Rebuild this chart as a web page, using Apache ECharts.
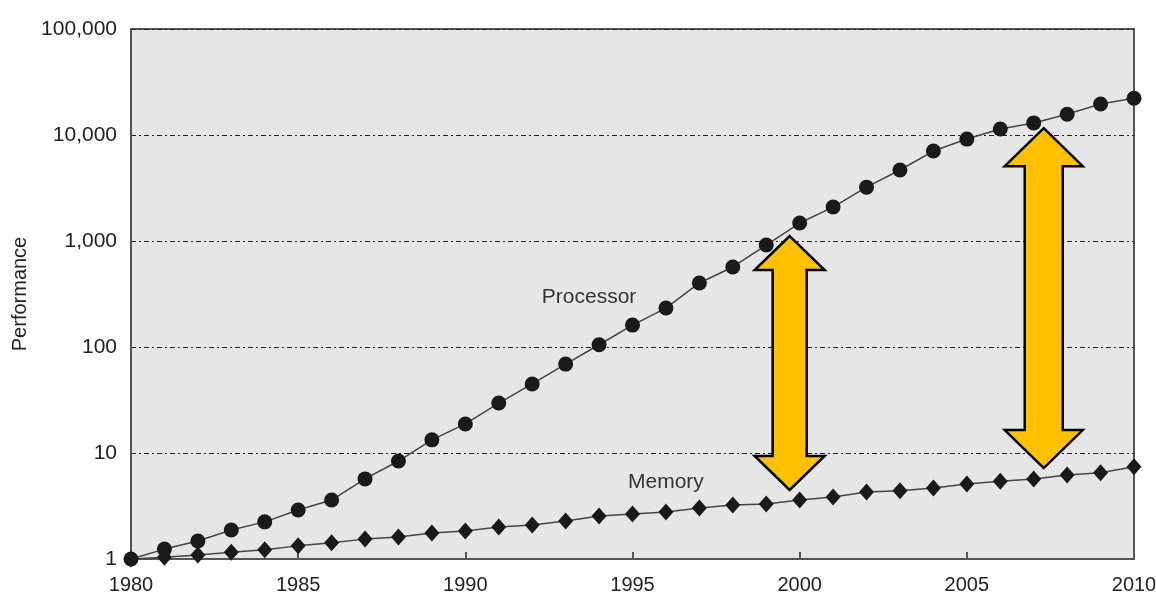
<!DOCTYPE html>
<html lang="en">
<head>
    <meta charset="UTF-8">
    <script src="https://cdn.jsdelivr.net/npm/echarts@6/dist/echarts.min.js"></script>
    <title>Processor vs Memory performance</title>
    <style>
        html, body { margin: 0; padding: 0; background: #fff; }
        #chart { width: 1156px; height: 598px; }
    </style>
</head>
<body>
<div id="chart"></div>
<script type="text/javascript">
    // years 1980..2010
    var years = [1980, 1981, 1982, 1983, 1984, 1985, 1986, 1987, 1988, 1989, 1990,
        1991, 1992, 1993, 1994, 1995, 1996, 1997, 1998, 1999, 2000,
        2001, 2002, 2003, 2004, 2005, 2006, 2007, 2008, 2009, 2010];
    var processor = [1, 1.24, 1.48, 1.88, 2.24, 2.9, 3.6, 5.7, 8.4, 13.3, 18.8,
        29.6, 44.8, 69, 105, 161, 233, 402, 569, 916, 1478,
        2090, 3222, 4677, 7057, 9153, 11400, 13000, 15700, 19600, 22200];
    var memory = [1, 1.04, 1.09, 1.16, 1.22, 1.33, 1.42, 1.54, 1.61, 1.76, 1.84,
        2.0, 2.09, 2.28, 2.54, 2.66, 2.77, 3.03, 3.23, 3.3, 3.6,
        3.85, 4.28, 4.4, 4.67, 5.1, 5.4, 5.69, 6.2, 6.5, 7.4];
    var yTicks = [1, 10, 100, 1000, 10000, 100000];

    // gap arrows: [year, top value, bottom value]
    var gapArrows = [[1999.7, 1114, 4.48], [2007.3, 11600, 7.2]];
    // text labels: [text, year, value]
    var seriesLabels = [['Processor', 1993.7, 297], ['Memory', 1996.0, 5.3]];

    function pair(arr) {
        var out = [];
        for (var i = 0; i < years.length; i++) {
            out.push([years[i], arr[i]]);
        }
        return out;
    }

    var textColor = '#222';
    var font = 'Liberation Sans';

    var myChart = echarts.init(document.getElementById('chart'));
    var option = {
        animation: false,
        grid: {
            left: 131, right: 22, top: 29, bottom: 39,
            outerBoundsMode: 'none',
            show: true,
            backgroundColor: '#e6e6e6',
            borderColor: '#555',
            borderWidth: 2
        },
        xAxis: {
            type: 'value',
            min: 1980,
            max: 2010,
            interval: 5,
            splitLine: { show: false },
            axisLine: { lineStyle: { color: '#555', width: 2 } },
            axisTick: { show: true, inside: true, length: 7, lineStyle: { color: '#555', width: 2 } },
            axisLabel: {
                color: textColor, fontFamily: font, fontSize: 20, margin: 16,
                formatter: function (v) { return String(v); }
            }
        },
        yAxis: {
            type: 'log',
            logBase: 10,
            min: yTicks[0],
            max: yTicks[yTicks.length - 1],
            name: 'Performance',
            nameLocation: 'middle',
            nameRotate: 90,
            nameGap: 94,
            nameTextStyle: { color: textColor, fontFamily: font, fontSize: 20 },
            axisLine: { show: true, lineStyle: { color: '#555', width: 2 } },
            axisTick: { show: false },
            splitLine: {
                show: true,
                lineStyle: { color: '#222', width: 1, type: [5, 3, 2, 3] }
            },
            axisLabel: {
                color: textColor, fontFamily: font, fontSize: 21, margin: 14,
                formatter: function (v) { return Math.round(v).toLocaleString('en-US'); }
            }
        },
        series: [
            {
                name: 'Processor',
                type: 'line',
                data: pair(processor),
                symbol: 'circle',
                symbolSize: 15,
                itemStyle: { color: '#1a1a1a' },
                lineStyle: { color: '#444', width: 1.5 },
                z: 3
            },
            {
                name: 'Memory',
                type: 'line',
                data: pair(memory),
                symbol: 'diamond',
                symbolSize: [15, 17],
                itemStyle: { color: '#1a1a1a' },
                lineStyle: { color: '#444', width: 1.5 },
                z: 3
            }
        ]
    };
    myChart.setOption(option);

    // arrow sizes: head half-width, shaft half-width, head length
    var arrowSizes = [[35, 17, 34], [39, 19, 38]];

    function arrowPoints(a, s) {
        var top = myChart.convertToPixel({ gridIndex: 0 }, [a[0], a[1]]);
        var bot = myChart.convertToPixel({ gridIndex: 0 }, [a[0], a[2]]);
        var cx = top[0], y1 = top[1], y2 = bot[1];
        var hw = s[0], sw = s[1], hl = s[2];
        return [
            [cx, y1], [cx + hw, y1 + hl], [cx + sw, y1 + hl], [cx + sw, y2 - hl],
            [cx + hw, y2 - hl], [cx, y2], [cx - hw, y2 - hl], [cx - sw, y2 - hl],
            [cx - sw, y1 + hl], [cx - hw, y1 + hl]
        ];
    }

    var graphics = [];
    gapArrows.forEach(function (a, i) {
        graphics.push({
            type: 'polygon',
            shape: { points: arrowPoints(a, arrowSizes[i]) },
            style: { fill: '#ffc000', stroke: '#000', lineWidth: 2.5 },
            z: 10
        });
    });
    seriesLabels.forEach(function (l) {
        var p = myChart.convertToPixel({ gridIndex: 0 }, [l[1], l[2]]);
        graphics.push({
            type: 'text',
            x: p[0], y: p[1],
            style: {
                text: l[0], fill: '#333', font: '21px "Liberation Sans"',
                align: 'center', verticalAlign: 'middle'
            },
            z: 10
        });
    });
    myChart.setOption({ graphic: graphics });
</script>
</body>
</html>
